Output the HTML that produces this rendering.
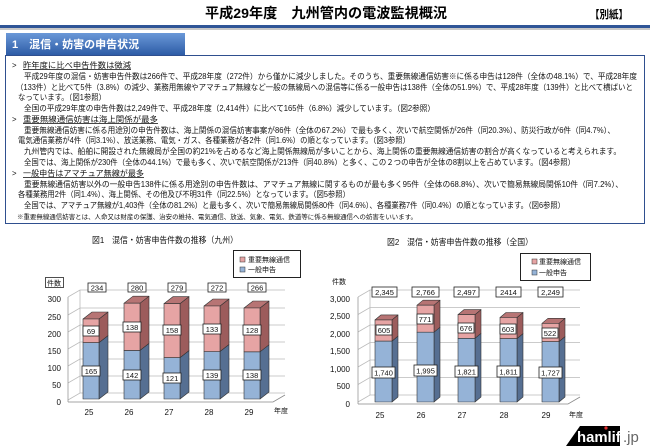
<!DOCTYPE html>
<html><head><meta charset="utf-8"><style>
body{margin:0;background:#fff;}
svg{display:block;font-family:"Liberation Sans","Noto Sans CJK JP",sans-serif;}
</style></head><body>
<svg width="650" height="446" viewBox="0 0 650 446" xmlns="http://www.w3.org/2000/svg">
<defs>
<linearGradient id="hd" x1="0" y1="0" x2="0" y2="1"><stop offset="0" stop-color="#6a98d8"/><stop offset="1" stop-color="#2d5ca6"/></linearGradient>
</defs>
<!-- header -->
<text x="326" y="18" font-size="14" font-weight="bold" text-anchor="middle" textLength="242" lengthAdjust="spacingAndGlyphs">平成29年度　九州管内の電波監視概況</text>
<text x="590" y="18" font-size="11" font-weight="bold" textLength="38" lengthAdjust="spacingAndGlyphs">【別紙】</text>
<rect x="0" y="28" width="650" height="2" fill="#c8c8c8"/>
<rect x="0" y="25" width="650" height="3" fill="#2f5597"/>
<!-- box -->
<rect x="5.5" y="55.5" width="639" height="168" fill="none" stroke="#2f4f8f" stroke-width="1"/>
<rect x="6" y="33" width="179" height="22" fill="url(#hd)"/>
<text x="12" y="48" font-size="11" font-weight="bold" fill="#fff">1　混信・妨害の申告状況</text>
<g font-size="7.8" fill="#111">
<text x="12" y="68">&gt;</text>
<text x="23" y="68" text-decoration="underline" textLength="108" lengthAdjust="spacingAndGlyphs">昨年度に比べ申告件数は微減</text>
<text x="24" y="79" textLength="613" lengthAdjust="spacingAndGlyphs">平成29年度の混信・妨害申告件数は266件で、平成28年度（272件）から僅かに減少しました。そのうち、重要無線通信妨害※に係る申告は128件（全体の48.1%）で、平成28年度</text>
<text x="16" y="90" textLength="617" lengthAdjust="spacingAndGlyphs">（133件）と比べて5件（3.8%）の減少、業務用無線やアマチュア無線など一般の無線局への混信等に係る一般申告は138件（全体の51.9%）で、平成28年度（139件）と比べて横ばいと</text>
<text x="18" y="100" textLength="88" lengthAdjust="spacingAndGlyphs">なっています。（図1参照）</text>
<text x="24" y="111" textLength="411" lengthAdjust="spacingAndGlyphs">全国の平成29年度の申告件数は2,249件で、平成28年度（2,414件）に比べて165件（6.8%）減少しています。（図2参照）</text>
<text x="12" y="122">&gt;</text>
<text x="23" y="122" text-decoration="underline" textLength="135" lengthAdjust="spacingAndGlyphs">重要無線通信妨害は海上関係が最多</text>
<text x="24" y="133" textLength="591" lengthAdjust="spacingAndGlyphs">重要無線通信妨害に係る用途別の申告件数は、海上関係の混信妨害事案が86件（全体の67.2%）で最も多く、次いで航空関係が26件（同20.3%）、防災行政が6件（同4.7%）、</text>
<text x="18" y="143" textLength="392" lengthAdjust="spacingAndGlyphs">電気通信業務が4件（同3.1%）、放送業務、電気・ガス、各種業務が各2件（同1.6%）の順となっています。（図3参照）</text>
<text x="24" y="154" textLength="597" lengthAdjust="spacingAndGlyphs">九州管内では、船舶に開設された無線局が全国の約21%を占めるなど海上関係無線局が多いことから、海上関係の重要無線通信妨害の割合が高くなっていると考えられます。</text>
<text x="24" y="165" textLength="551" lengthAdjust="spacingAndGlyphs">全国では、海上関係が230件（全体の44.1%）で最も多く、次いで航空関係が213件（同40.8%）と多く、この２つの申告が全体の8割以上を占めています。（図4参照）</text>
<text x="12" y="176">&gt;</text>
<text x="23" y="176" text-decoration="underline" textLength="121" lengthAdjust="spacingAndGlyphs">一般申告はアマチュア無線が最多</text>
<text x="24" y="187" textLength="599" lengthAdjust="spacingAndGlyphs">重要無線通信妨害以外の一般申告138件に係る用途別の申告件数は、アマチュア無線に関するものが最も多く95件（全体の68.8%）、次いで簡易無線局関係10件（同7.2%）、</text>
<text x="18" y="197" textLength="332" lengthAdjust="spacingAndGlyphs">各種業務用2件（同1.4%）、海上関係、その他及び不明31件（同22.5%）となっています。（図5参照）</text>
<text x="24" y="208" textLength="541" lengthAdjust="spacingAndGlyphs">全国では、アマチュア無線が1,403件（全体の81.2%）と最も多く、次いで簡易無線局関係80件（同4.6%）、各種業務7件（同0.4%）の順となっています。（図6参照）</text>
<text x="17" y="219" font-size="6.3" textLength="400" lengthAdjust="spacingAndGlyphs">※重要無線通信妨害とは、人命又は財産の保護、治安の維持、電気通信、放送、気象、電気、鉄道等に係る無線通信への妨害をいいます。</text>
</g>

<!-- CHART 1 -->
<g font-size="8" fill="#111">
<text x="165" y="243" text-anchor="middle" font-size="8.5" textLength="146" lengthAdjust="spacingAndGlyphs">図1　混信・妨害申告件数の推移（九州）</text>
<rect x="233.5" y="250.5" width="67" height="27" fill="#fff" stroke="#222"/>
<rect x="240" y="257" width="5" height="5" fill="#e6a4a4" stroke="#333" stroke-width="0.5"/>
<text x="248" y="262" font-size="7">重要無線通信</text>
<rect x="240" y="267" width="5" height="5" fill="#95b3d7" stroke="#333" stroke-width="0.5"/>
<text x="248" y="272" font-size="7">一般申告</text>
<rect x="45.5" y="277.5" width="18" height="10" fill="#fff" stroke="#222" stroke-width="0.8"/>
<text x="47" y="285.5" font-size="7">件数</text>
</g>
<g stroke="#bbb" stroke-width="0.8" fill="none">
<path d="M68 400 L80 393 L285 393 M68 383 L80 376 L285 376 M68 366 L80 359 L285 359 M68 349 L80 342 L285 342 M68 332 L80 325 L285 325 M68 315 L80 308 L285 308 M68 297 L80 290 L285 290"/>
<path d="M80 393 L80 290"/>
<path d="M68 402 L273 402 L285 395" stroke="#888"/>
<path d="M68 402 L68 297" stroke="#999"/>
</g>
<g font-size="8" text-anchor="end" fill="#111">
<text x="61" y="405">0</text><text x="61" y="388">50</text><text x="61" y="371">100</text><text x="61" y="354">150</text><text x="61" y="337">200</text><text x="61" y="320">250</text><text x="61" y="302">300</text>
</g>
<g stroke="#333" stroke-width="0.6" stroke-linejoin="round">
<!-- bar template: x, yb, yt -->
<!-- 25 -->
<polygon points="99,342.6 108,335.6 108,392 99,399" fill="#566f92"/>
<polygon points="99,319 108,312 108,335.6 99,342.6" fill="#9c5c5c"/>
<polygon points="83,319 92,312 108,312 99,319" fill="#b77474"/>
<rect x="83" y="342.6" width="16" height="56.4" fill="#95b3d7"/>
<rect x="83" y="319" width="16" height="23.6" fill="#e6a4a4"/>
<!-- 26 -->
<polygon points="140,350.4 149,343.4 149,392 140,399" fill="#566f92"/>
<polygon points="140,303.2 149,296.2 149,343.4 140,350.4" fill="#9c5c5c"/>
<polygon points="124,303.2 133,296.2 149,296.2 140,303.2" fill="#b77474"/>
<rect x="124" y="350.4" width="16" height="48.6" fill="#95b3d7"/>
<rect x="124" y="303.2" width="16" height="47.2" fill="#e6a4a4"/>
<!-- 27 -->
<polygon points="180,357.6 189,350.6 189,392 180,399" fill="#566f92"/>
<polygon points="180,303.6 189,296.6 189,350.6 180,357.6" fill="#9c5c5c"/>
<polygon points="164,303.6 173,296.6 189,296.6 180,303.6" fill="#b77474"/>
<rect x="164" y="357.6" width="16" height="41.4" fill="#95b3d7"/>
<rect x="164" y="303.6" width="16" height="54" fill="#e6a4a4"/>
<!-- 28 -->
<polygon points="220,351.5 229,344.5 229,392 220,399" fill="#566f92"/>
<polygon points="220,306 229,299 229,344.5 220,351.5" fill="#9c5c5c"/>
<polygon points="204,306 213,299 229,299 220,306" fill="#b77474"/>
<rect x="204" y="351.5" width="16" height="47.5" fill="#95b3d7"/>
<rect x="204" y="306" width="16" height="45.5" fill="#e6a4a4"/>
<!-- 29 -->
<polygon points="260,351.8 269,344.8 269,392 260,399" fill="#566f92"/>
<polygon points="260,308 269,301 269,344.8 260,351.8" fill="#9c5c5c"/>
<polygon points="244,308 253,301 269,301 260,308" fill="#b77474"/>
<rect x="244" y="351.8" width="16" height="47.2" fill="#95b3d7"/>
<rect x="244" y="308" width="16" height="43.8" fill="#e6a4a4"/>
</g>
<g font-size="7.5" text-anchor="middle" fill="#111">
<g fill="#fff" stroke="#222" stroke-width="0.8">
<rect x="88" y="283" width="18" height="9"/><rect x="128" y="283" width="18" height="9"/><rect x="168" y="283" width="18" height="9"/><rect x="208" y="283" width="18" height="9"/><rect x="248" y="283" width="18" height="9"/>
<rect x="83" y="326" width="16" height="10"/><rect x="123" y="322" width="18" height="10"/><rect x="163" y="325" width="18" height="10"/><rect x="203" y="324" width="18" height="10"/><rect x="243" y="325" width="18" height="10"/>
<rect x="82" y="366" width="18" height="10"/><rect x="123" y="370" width="18" height="10"/><rect x="163" y="373" width="18" height="10"/><rect x="203" y="370" width="18" height="10"/><rect x="243" y="370" width="18" height="10"/>
</g>
<text x="97" y="290.5">234</text><text x="137" y="290.5">280</text><text x="177" y="290.5">279</text><text x="217" y="290.5">272</text><text x="257" y="290.5">266</text>
<text x="91" y="334">69</text><text x="132" y="330">138</text><text x="172" y="333">158</text><text x="212" y="332">133</text><text x="252" y="333">128</text>
<text x="91" y="374">165</text><text x="132" y="378">142</text><text x="172" y="381">121</text><text x="212" y="378">139</text><text x="252" y="378">138</text>
<g font-size="8"><text x="89" y="415">25</text><text x="129" y="415">26</text><text x="169" y="415">27</text><text x="209" y="415">28</text><text x="249" y="415">29</text></g>
<text x="281" y="413" font-size="7">年度</text>
</g>

<!-- CHART 2 -->
<g font-size="8" fill="#111">
<text x="460" y="245" text-anchor="middle" font-size="8.5" textLength="146" lengthAdjust="spacingAndGlyphs">図2　混信・妨害申告件数の推移（全国）</text>
<rect x="520.5" y="253.5" width="70" height="27" fill="#fff" stroke="#222"/>
<rect x="532" y="259" width="5" height="5" fill="#e6a4a4" stroke="#333" stroke-width="0.5"/>
<text x="539" y="264" font-size="7">重要無線通信</text>
<rect x="532" y="270" width="5" height="5" fill="#95b3d7" stroke="#333" stroke-width="0.5"/>
<text x="539" y="275" font-size="7">一般申告</text>
<text x="332" y="284" font-size="7">件数</text>
</g>
<g stroke="#bbb" stroke-width="0.8" fill="none">
<path d="M358 402 L370 395 L580 395 M358 384.5 L370 377.5 L580 377.5 M358 367 L370 360 L580 360 M358 349.5 L370 342.5 L580 342.5 M358 332 L370 325 L580 325 M358 314.5 L370 307.5 L580 307.5 M358 297 L370 290 L580 290"/>
<path d="M370 395 L370 290"/>
<path d="M358 404 L568 404 L580 397" stroke="#888"/>
<path d="M358 404 L358 297" stroke="#999"/>
</g>
<g font-size="8" text-anchor="end" fill="#111">
<text x="350" y="407">0</text><text x="350" y="389">500</text><text x="350" y="372">1,000</text><text x="350" y="354">1,500</text><text x="350" y="337">2,000</text><text x="350" y="319">2,500</text><text x="350" y="302">3,000</text>
</g>
<g stroke="#333" stroke-width="0.6" stroke-linejoin="round">
<!-- 25 -->
<polygon points="392,341.1 398,336.1 398,397 392,402" fill="#566f92"/>
<polygon points="392,319.9 398,314.9 398,336.1 392,341.1" fill="#9c5c5c"/>
<polygon points="375,319.9 381,314.9 398,314.9 392,319.9" fill="#b77474"/>
<rect x="375" y="341.1" width="17" height="60.9" fill="#95b3d7"/>
<rect x="375" y="319.9" width="17" height="21.2" fill="#e6a4a4"/>
<!-- 26 -->
<polygon points="434,332.2 440,327.2 440,397 434,402" fill="#566f92"/>
<polygon points="434,305.2 440,300.2 440,327.2 434,332.2" fill="#9c5c5c"/>
<polygon points="417,305.2 423,300.2 440,300.2 434,305.2" fill="#b77474"/>
<rect x="417" y="332.2" width="17" height="69.8" fill="#95b3d7"/>
<rect x="417" y="305.2" width="17" height="27" fill="#e6a4a4"/>
<!-- 27 -->
<polygon points="475,338.3 481,333.3 481,397 475,402" fill="#566f92"/>
<polygon points="475,314.6 481,309.6 481,333.3 475,338.3" fill="#9c5c5c"/>
<polygon points="458,314.6 464,309.6 481,309.6 475,314.6" fill="#b77474"/>
<rect x="458" y="338.3" width="17" height="63.7" fill="#95b3d7"/>
<rect x="458" y="314.6" width="17" height="23.7" fill="#e6a4a4"/>
<!-- 28 -->
<polygon points="517,338.6 523,333.6 523,397 517,402" fill="#566f92"/>
<polygon points="517,317.5 523,312.5 523,333.6 517,338.6" fill="#9c5c5c"/>
<polygon points="500,317.5 506,312.5 523,312.5 517,317.5" fill="#b77474"/>
<rect x="500" y="338.6" width="17" height="63.4" fill="#95b3d7"/>
<rect x="500" y="317.5" width="17" height="21.1" fill="#e6a4a4"/>
<!-- 29 -->
<polygon points="559,341.6 565,336.6 565,397 559,402" fill="#566f92"/>
<polygon points="559,323.3 565,318.3 565,336.6 559,341.6" fill="#9c5c5c"/>
<polygon points="542,323.3 548,318.3 565,318.3 559,323.3" fill="#b77474"/>
<rect x="542" y="341.6" width="17" height="60.4" fill="#95b3d7"/>
<rect x="542" y="323.3" width="17" height="18.3" fill="#e6a4a4"/>
</g>
<g font-size="7.5" text-anchor="middle" fill="#111">
<g fill="#fff" stroke="#222" stroke-width="0.8">
<rect x="372" y="287" width="25" height="10"/><rect x="412" y="287" width="27" height="10"/><rect x="454" y="287" width="25" height="10"/><rect x="496" y="287" width="25" height="10"/><rect x="538" y="287" width="25" height="10"/>
<rect x="376" y="325" width="16" height="10"/><rect x="417" y="314" width="16" height="10"/><rect x="458" y="323" width="16" height="10"/><rect x="500" y="324" width="16" height="10"/><rect x="542" y="328" width="16" height="10"/>
<rect x="372" y="367" width="23" height="11"/><rect x="414" y="365" width="23" height="11"/><rect x="455" y="366" width="23" height="11"/><rect x="497" y="366" width="23" height="11"/><rect x="539" y="367" width="23" height="11"/>
</g>
<text x="384.5" y="295">2,345</text><text x="425.5" y="295">2,766</text><text x="466.5" y="295">2,497</text><text x="508.5" y="295">2414</text><text x="550.5" y="295">2,249</text>
<text x="384" y="333">605</text><text x="425" y="322">771</text><text x="466" y="331">676</text><text x="508" y="332">603</text><text x="550" y="336">522</text>
<text x="383.5" y="375.5">1,740</text><text x="425.5" y="373.5">1,995</text><text x="466.5" y="374.5">1,821</text><text x="508.5" y="374.5">1,811</text><text x="550.5" y="375.5">1,727</text>
<g font-size="8"><text x="380" y="418">25</text><text x="421" y="418">26</text><text x="462" y="418">27</text><text x="504" y="418">28</text><text x="546" y="418">29</text></g>
<text x="576" y="417" font-size="7">年度</text>
</g>

<!-- logo -->
<polygon points="580,426 620,426 620,446 566,446" fill="#000"/>
<text x="577" y="442" font-size="15" font-weight="bold" fill="#fff" textLength="52" lengthAdjust="spacingAndGlyphs">hamlife</text>
<circle cx="606" cy="428" r="1.6" fill="#e03030"/>
<text x="623" y="442" font-size="15" fill="#666">.jp</text>
</svg>
</body></html>
